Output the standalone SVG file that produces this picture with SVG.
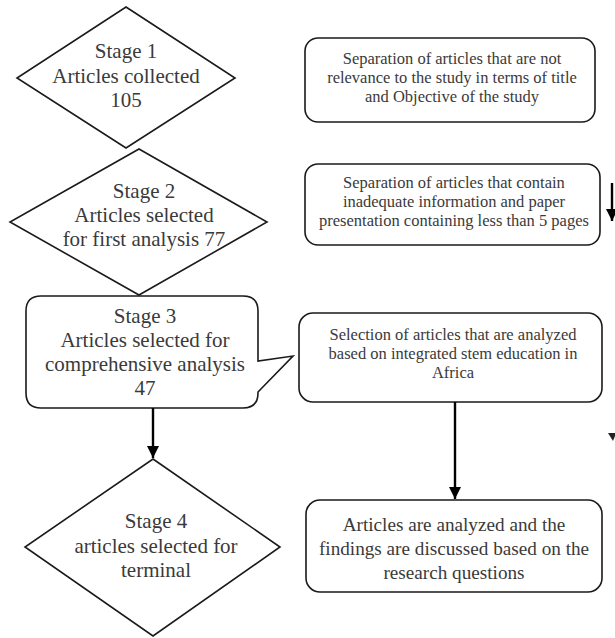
<svg xmlns="http://www.w3.org/2000/svg" width="615" height="638" viewBox="0 0 615 638">
<defs>
<style>
.sh{fill:#fff;stroke:#1a1a1a;stroke-width:1.6;stroke-linejoin:miter}
.t{font-family:"Liberation Serif","Times New Roman",serif;fill:#3a3a3a;text-anchor:middle}
.big{font-size:21px}
.sm{font-size:16.5px}
.md{font-size:19.2px}
.ln{stroke:#000;stroke-width:2.4;fill:none}
</style>
<marker id="ah" markerWidth="12" markerHeight="12" refX="10" refY="5" orient="auto" markerUnits="userSpaceOnUse" viewBox="0 0 10 10">
<path d="M0,0 L10,5 L0,10 Z" fill="#000"/>
</marker>
</defs>
<rect width="615" height="638" fill="#fff"/>

<g id="stage1">
<polygon class="sh" points="126,7 235,78 126,148 17,78"/>
<text class="t big" x="126" y="58">Stage 1</text>
<text class="t big" x="126" y="83">Articles collected</text>
<text class="t big" x="126" y="107">105</text>
</g>

<g id="stage2">
<polygon class="sh" points="139,149 267,222 139,295 10,222"/>
<text class="t big" x="144" y="198">Stage 2</text>
<text class="t big" x="144" y="222">Articles selected</text>
<text class="t big" x="144" y="246">for first analysis 77</text>
</g>

<g id="stage3">
<path class="sh" d="M41,296 H243 Q258,296 258,311 V361 L293,356 L258,392 V393 Q258,408 243,408 H41 Q26,408 26,393 V311 Q26,296 41,296 Z"/>
<text class="t big" x="145" y="323">Stage 3</text>
<text class="t big" x="145" y="347">Articles selected for</text>
<text class="t big" x="145" y="371">comprehensive analysis</text>
<text class="t big" x="145" y="395">47</text>
</g>

<g id="stage4">
<polygon class="sh" points="153,459 280,547 153,636 25,547"/>
<text class="t big" x="156" y="528">Stage 4</text>
<text class="t big" x="156" y="553">articles selected for</text>
<text class="t big" x="156" y="577">terminal</text>
</g>

<g id="boxA">
<rect class="sh" x="305" y="38" width="290" height="84" rx="13"/>
<text class="t sm" x="452" y="64">Separation of articles that are not</text>
<text class="t sm" x="452" y="83">relevance to the study in terms of title</text>
<text class="t sm" x="452" y="102">and Objective of the study</text>
</g>

<g id="boxB">
<rect class="sh" x="305" y="164" width="295" height="81" rx="13"/>
<text class="t sm" x="454" y="188">Separation of articles that contain</text>
<text class="t sm" x="454" y="207">inadequate information and paper</text>
<text class="t sm" x="454" y="226">presentation containing less than 5 pages</text>
</g>

<g id="boxC">
<rect class="sh" x="299" y="313" width="303" height="89" rx="14"/>
<text class="t sm" x="453" y="340">Selection of articles that are analyzed</text>
<text class="t sm" x="453" y="359">based on integrated stem education in</text>
<text class="t sm" x="453" y="378">Africa</text>
</g>

<g id="boxD">
<rect class="sh" x="306" y="500" width="296" height="92" rx="14"/>
<text class="t md" x="454" y="531">Articles are analyzed and the</text>
<text class="t md" x="454" y="555">findings are discussed based on the</text>
<text class="t md" x="454" y="579">research questions</text>
</g>

<g id="connectors">
<line class="ln" x1="153" y1="408" x2="153" y2="458" marker-end="url(#ah)"/>
<line class="ln" x1="455" y1="402" x2="455" y2="499" marker-end="url(#ah)"/>
<line class="ln" x1="612" y1="183" x2="612" y2="221" marker-end="url(#ah)"/>
<path d="M608,433 L613,441 L615,436 L615,433 Z" fill="#222"/>
</g>
</svg>
